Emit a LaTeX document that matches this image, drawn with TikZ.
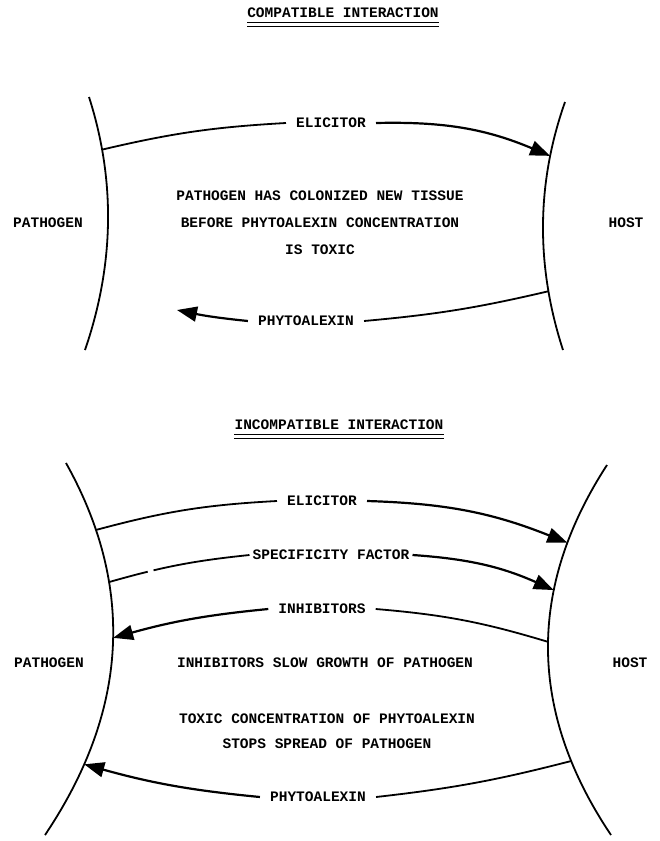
\documentclass[tikz,border=0pt]{standalone}
\usepackage{fontspec}
\setmonofont{Liberation Mono}
\usetikzlibrary{arrows.meta}
\tikzset{word/.style={font=\ttfamily\bfseries\fontsize{14.5}{27}\selectfont, inner sep=0pt, align=center},
    flowlbl/.style={word, inner xsep=10pt},
    rim/.style={line width=1.8pt},
    flow/.style={line width=2.2pt, -{Triangle[length=20pt, width=15pt]}}}

\begin{document}
\begin{tikzpicture}[x=1pt, y=-1pt]
    \useasboundingbox (0,0) rectangle (660,841);

    \node (ttla) [word] at (343,13) {COMPATIBLE INTERACTION};
    \draw [line width=1.4pt] ([yshift=-4.5pt]ttla.south west) -- ([yshift=-4.5pt]ttla.south east);
    \draw [line width=0.8pt] ([yshift=-8pt]ttla.south west) -- ([yshift=-8pt]ttla.south east);

    \node (patha) [word] at (48,223) {PATHOGEN};
    \node (hosta) [word] at (626,223) {HOST};
    \node (msga) [word] at (320,223) {PATHOGEN HAS COLONIZED NEW TISSUE\\
        BEFORE PHYTOALEXIN CONCENTRATION\\ IS TOXIC};

    \draw [rim] (89,97) .. controls (115.7,180.3) and (114.3,264.7) .. (85,350)
        coordinate[pos=0.21] (elia-s);
    \draw [rim] (565,102) .. controls (536.3,183.3) and (535.7,266) .. (563,350)
        coordinate[pos=0.22] (elia-e)
        coordinate[pos=0.766] (phya-s);

    \node (elia) [flowlbl] at (331,123) {ELICITOR};
    \draw (elia-s) edge [rim, bend left=5] (elia.west);
    \draw (elia.east) edge [flow, bend left=12] (elia-e);

    \coordinate (phya-e) at (177,310);
    \node (phya) [flowlbl] at (306,321) {PHYTOALEXIN};
    \draw (phya-s) edge [rim, bend left=4] (phya.east);
    \draw (phya.west) edge [flow, bend left=3] (phya-e);

    \node (ttlb) [word] at (339,425) {INCOMPATIBLE INTERACTION};
    \draw [line width=1.4pt] ([yshift=-4.5pt]ttlb.south west) -- ([yshift=-4.5pt]ttlb.south east);
    \draw [line width=0.8pt] ([yshift=-8pt]ttlb.south west) -- ([yshift=-8pt]ttlb.south east);

    \node (pathb) [word] at (49,663) {PATHOGEN};
    \node (hostb) [word] at (630,663) {HOST};
    \node (msgb) [word] at (325,663) {INHIBITORS SLOW GROWTH OF PATHOGEN};
    \node (msgc) [word, font=\ttfamily\bfseries\fontsize{14.5}{25}\selectfont]
        at (327,731) {TOXIC CONCENTRATION OF PHYTOALEXIN\\ STOPS SPREAD OF PATHOGEN};

    \draw [rim] (66,463) .. controls (135.3,587) and (128.3,711) .. (45,835)
        coordinate[pos=0.18] (elib-s)
        coordinate[pos=0.32] (spec-s)
        coordinate[pos=0.47] (inhb-e)
        coordinate[pos=0.81] (phyb-e);
    \draw [rim] (607,465) .. controls (527,588.3) and (528.3,711.7) .. (611,835)
        coordinate[pos=0.21] (elib-e)
        coordinate[pos=0.338] (spec-e)
        coordinate[pos=0.478] (inhb-s)
        coordinate[pos=0.80] (phyb-s);

    \node (elib) [flowlbl] at (322,501) {ELICITOR};
    \draw (elib-s) edge [rim, bend left=6] (elib.west);
    \draw (elib.east) edge [flow, bend left=10] (elib-e);

    \node (spec) [word, inner xsep=3pt] at (331,555) {SPECIFICITY FACTOR};
    \draw (spec-s) edge [rim, bend left=5, dash pattern=on 40pt off 6pt on 300pt] (spec.west);
    \draw (spec.east) edge [flow, bend left=10] (spec-e);

    \node (inhb) [flowlbl] at (322,609) {INHIBITORS};
    \draw (inhb-s) edge [rim, bend right=6] (inhb.east);
    \draw (inhb.west) edge [flow, bend right=5] (inhb-e);

    \node (phyb) [flowlbl] at (318,797) {PHYTOALEXIN};
    \draw (phyb-s) edge [rim, bend left=4] (phyb.east);
    \draw (phyb.west) edge [flow, bend left=5] (phyb-e);
\end{tikzpicture}
\end{document}
